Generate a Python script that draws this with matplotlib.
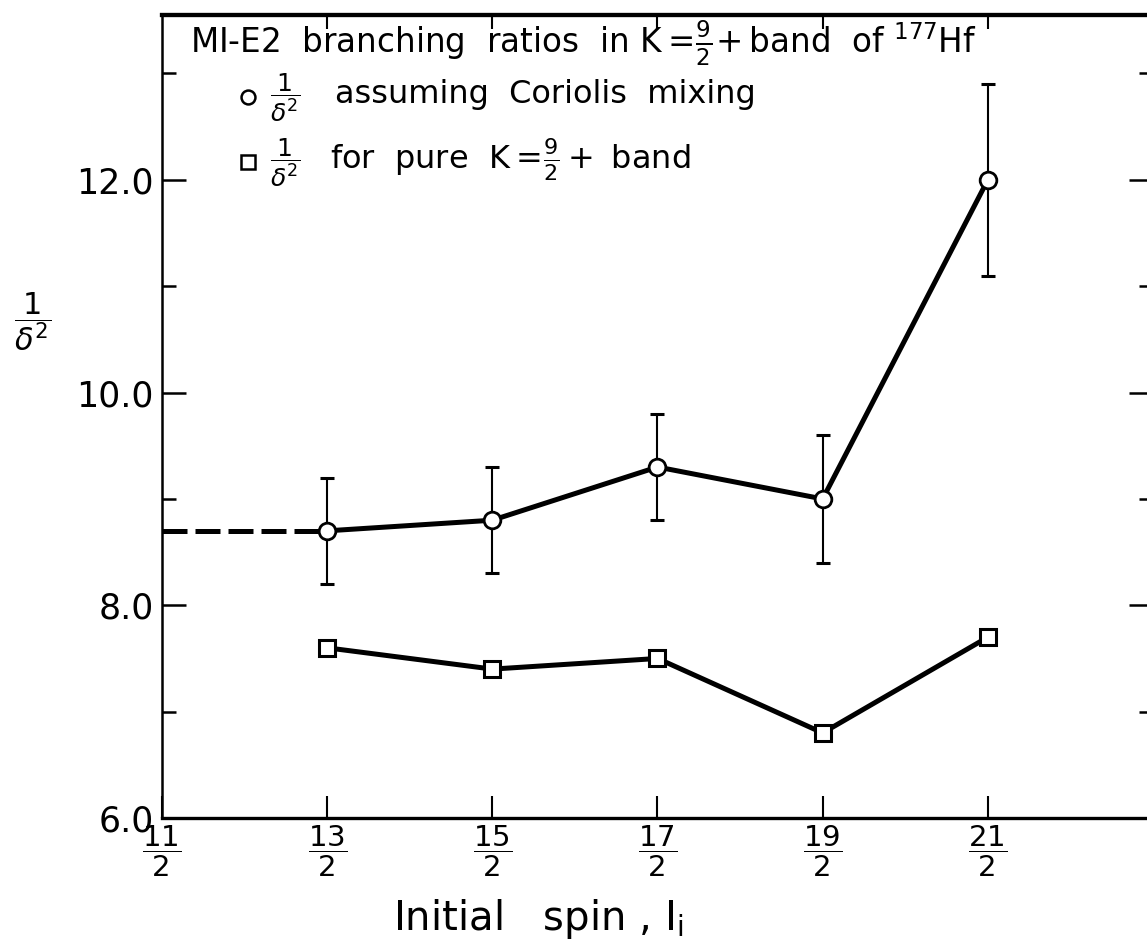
import matplotlib
matplotlib.use("Agg")
import matplotlib.pyplot as plt
from matplotlib.ticker import FixedLocator

# Data
spin_num = [13, 15, 17, 19, 21]                 # initial spin I_i = n/2
coriolis = [8.7, 8.8, 9.3, 9.0, 12.0]           # 1/delta^2 assuming Coriolis mixing
coriolis_err = [0.5, 0.5, 0.5, 0.6, 0.9]
pure_band = [7.6, 7.4, 7.5, 6.8, 7.7]           # 1/delta^2 for pure K=9/2+ band
tick_num = [11, 13, 15, 17, 19, 21]

spin = [n / 2 for n in spin_num]
tick_pos = [n / 2 for n in tick_num]
tick_labels = [rf"$\dfrac{{{n}}}{{2}}$" for n in tick_num]

plt.rcParams["mathtext.fontset"] = "dejavusans"
plt.rcParams["font.family"] = "DejaVu Sans"

W, H = 1147, 939
fig = plt.figure(figsize=(W / 100, H / 100), dpi=100)
ax = fig.add_axes([162 / W, 121 / H, (1153 - 162) / W, (818 - 15) / H])

# dashed extension to the left of the first point
ax.plot([tick_pos[0], spin[0]], [coriolis[0], coriolis[0]], color="black",
        lw=3.6, ls=(0, (5, 1.6)), solid_capstyle="butt", zorder=2)

ax.errorbar(spin, coriolis, yerr=coriolis_err, fmt="none", ecolor="black",
            elinewidth=1.5, capsize=5, capthick=2.2, zorder=1)
ax.plot(spin, coriolis, color="black", lw=3.6, marker="o", ms=12,
        mfc="white", mec="black", mew=2, zorder=3)
ax.plot(spin, pure_band, color="black", lw=3.6, marker="s", ms=12,
        mfc="white", mec="black", mew=2.2, zorder=3)

ax.set_xlim(5.5, 11.5)
ax.set_ylim(6.0, 13.55)

ax.xaxis.set_major_locator(FixedLocator(tick_pos))
ax.set_xticklabels(tick_labels, fontsize=21)
ax.yaxis.set_major_locator(FixedLocator([6, 8, 10, 12]))
ax.yaxis.set_minor_locator(FixedLocator([7, 9, 11, 13]))
ax.set_yticklabels(["6.0", "8.0", "10.0", "12.0"], fontsize=25)

ax.tick_params(axis="y", which="major", direction="in", length=17, width=1.8,
               left=True, right=True, pad=6)
ax.tick_params(axis="y", which="minor", direction="in", length=10, width=1.8,
               left=True, right=True)
ax.tick_params(axis="x", which="major", direction="in", length=16, width=1.5,
               bottom=True, top=False, pad=4)

top = ax.secondary_xaxis("top")
top.xaxis.set_major_locator(FixedLocator(tick_pos[1:]))
top.tick_params(direction="in", length=10, width=1.5, labeltop=False)
top.spines["top"].set_linewidth(3)

ax.spines["left"].set_linewidth(1.8)
ax.spines["bottom"].set_linewidth(2.4)
ax.spines["top"].set_linewidth(3)
ax.spines["right"].set_linewidth(2)


# in-axes title and key, placed in pixel positions of the reference
def ax_y(py):
    return (818 - py) / 803


def ax_x(px):
    return (px - 162) / 991


ax.text(ax_x(190), ax_y(53),
        r"MI-E2  branching  ratios  in K$=\!\frac{9}{2}\!+$band  of $^{177}$Hf",
        fontsize=23.5, va="baseline", ha="left", transform=ax.transAxes)

ax.plot([ax_x(248)], [ax_y(97)], marker="o", ms=10, mfc="white", mec="black",
        mew=1.8, transform=ax.transAxes, clip_on=False)
ax.text(ax_x(270), ax_y(98), r"$\dfrac{1}{\delta^2}$", fontsize=18,
        va="center", ha="left", transform=ax.transAxes)
ax.text(ax_x(335), ax_y(103), "assuming  Coriolis  mixing",
        fontsize=23, va="baseline", ha="left", transform=ax.transAxes)

ax.plot([ax_x(248)], [ax_y(162)], marker="s", ms=10, mfc="white", mec="black",
        mew=1.8, transform=ax.transAxes, clip_on=False)
ax.text(ax_x(270), ax_y(163), r"$\dfrac{1}{\delta^2}$", fontsize=18,
        va="center", ha="left", transform=ax.transAxes)
ax.text(ax_x(330), ax_y(169), r"for  pure  K$=\!\frac{9}{2}+$ band",
        fontsize=23, va="baseline", ha="left", transform=ax.transAxes)

ax.set_xlabel(r"Initial   spin , I$_\mathrm{i}$", fontsize=29)
ax.xaxis.set_label_coords(ax_x(538), ax_y(897))
fig.text(33 / W, 1 - 322 / H, r"$\dfrac{1}{\delta^2}$", fontsize=22,
         ha="center", va="center")

fig.savefig("out.png", dpi=100)
